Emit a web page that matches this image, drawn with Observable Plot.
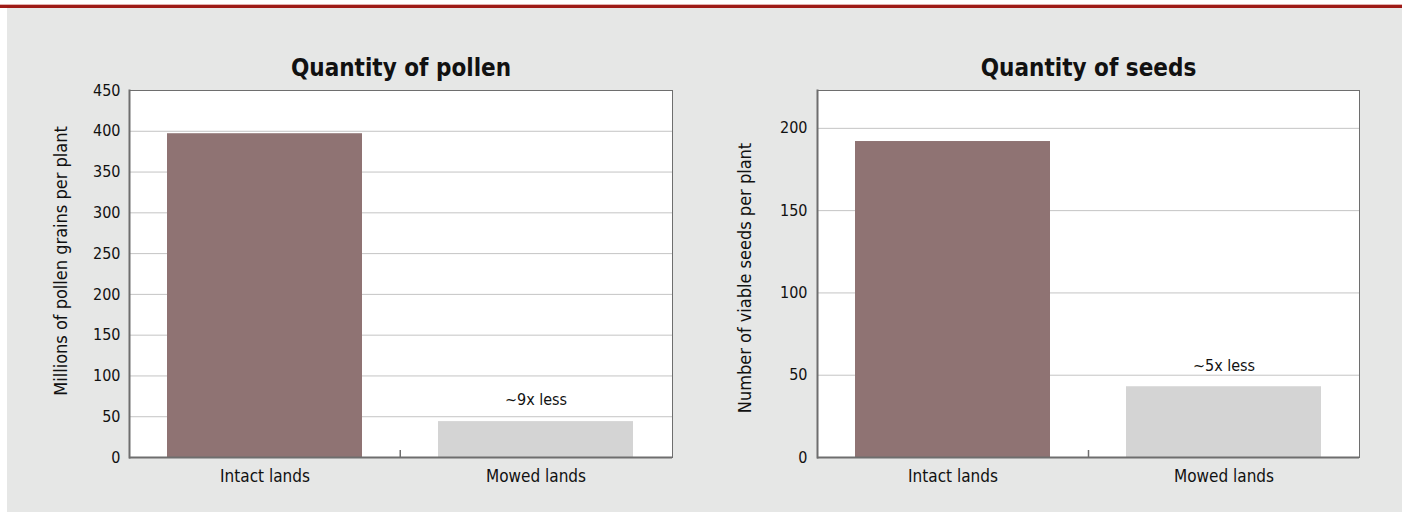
<!DOCTYPE html>
<html><head>
<meta charset="utf-8">
<script src="https://cdn.jsdelivr.net/npm/d3@7"></script>
<script src="https://cdn.jsdelivr.net/npm/@observablehq/plot@0.6"></script>
<style>
html,body{margin:0;padding:0;background:#fff;width:1402px;height:512px;overflow:hidden}
#topline{position:absolute;left:0;top:4px;width:1402px;height:3px;background:#9e1b17;border-top:1px solid #e3b0ae}
#panel{position:absolute;left:7px;top:8px;width:1395px;height:504px;background:#e6e7e6}
.chart{position:absolute;top:8px}
</style></head><body>
<div id="topline"></div>
<div id="panel"></div>
<div id="c1" class="chart" style="left:0px"></div>
<div id="c2" class="chart" style="left:700px"></div>
<script>
const categories = ["Intact lands", "Mowed lands"];
const pollenValues = [397, 44];
const seedValues = [192, 43];
const pollenTicks = [0, 50, 100, 150, 200, 250, 300, 350, 400, 450];
const seedTicks = [0, 50, 100, 150, 200];
const pollenDomainMax = 450;
const seedDomainMax = 223;
const chartTitles = ["Quantity of pollen", "Quantity of seeds"];
const yLabels = ["Millions of pollen grains per plant", "Number of viable seeds per plant"];
const notes = ["~9x less", "~5x less"];
const barColors = ["#8f7373", "#d4d4d4"];

const FONT = "'DejaVu Sans Condensed', 'Liberation Sans Narrow', sans-serif";

function makeChart({values, ticks, domainMax, title, ylabel, note, width, marginLeft, marginRight, tickPadding, labelDx, labelDy, noteDy}) {
  const data = categories.map((c, i) => ({cat: c, value: values[i]}));
  const step = (width - marginLeft - marginRight) / categories.length;
  const chart = Plot.plot({
    width, height: 504,
    marginTop: 82, marginBottom: 55, marginLeft, marginRight,
    style: {background: "transparent", fontFamily: FONT, fontSize: "16px", color: "#111"},
    x: {domain: categories, paddingInner: 0.28, paddingOuter: 0.14, label: null, tickSize: 0, tickPadding: 12},
    y: {domain: [0, domainMax], ticks, label: null, tickSize: 0, tickPadding},
    color: {domain: categories, range: barColors},
    marks: [
      Plot.frame({fill: "white", stroke: null}),
      Plot.gridY(ticks.filter(t => t > 0), {stroke: "#c4c4c4", strokeOpacity: 1}),
      Plot.barY(data, {x: "cat", y: "value", fill: "cat"}),
      Plot.ruleX([categories[1]], {x: d => d, y1: 0, y2: 0, insetTop: -7, dx: -step / 2, stroke: "#6e6e6e", strokeWidth: 1.5}),
      Plot.frame({stroke: "#6e6e6e", strokeWidth: 1}),
      Plot.frame({anchor: "left", stroke: "#6e6e6e", strokeWidth: 2}),
      Plot.ruleY([0], {stroke: "#6e6e6e", strokeWidth: 2}),
      Plot.axisX({fontSize: 17, tickSize: 0, tickPadding: 12, label: null}),
      Plot.text([note], {x: () => categories[1], y: () => values[1], dy: noteDy, lineAnchor: "bottom", fontSize: 16, fill: "#111"}),
      Plot.text([title], {frameAnchor: "top", dy: -15, lineAnchor: "bottom", fontSize: 24, fontWeight: "bold", fill: "#111"}),
      Plot.text([ylabel], {frameAnchor: "left", textAnchor: "middle", rotate: -90, dx: labelDx, dy: labelDy, fontSize: 18, fill: "#111"})
    ]
  });
  return chart;
}

document.getElementById("c1").append(makeChart({
  values: pollenValues, ticks: pollenTicks, domainMax: pollenDomainMax,
  title: chartTitles[0], ylabel: yLabels[0], note: notes[0],
  width: 700, marginLeft: 129, marginRight: 28, tickPadding: 9, labelDx: -68, labelDy: -13, noteDy: -17
}));
document.getElementById("c2").append(makeChart({
  values: seedValues, ticks: seedTicks, domainMax: seedDomainMax,
  title: chartTitles[1], ylabel: yLabels[1], note: notes[1],
  width: 702, marginLeft: 117, marginRight: 43, tickPadding: 10, labelDx: -72, labelDy: 4, noteDy: -16
}));
</script>
</body></html>
